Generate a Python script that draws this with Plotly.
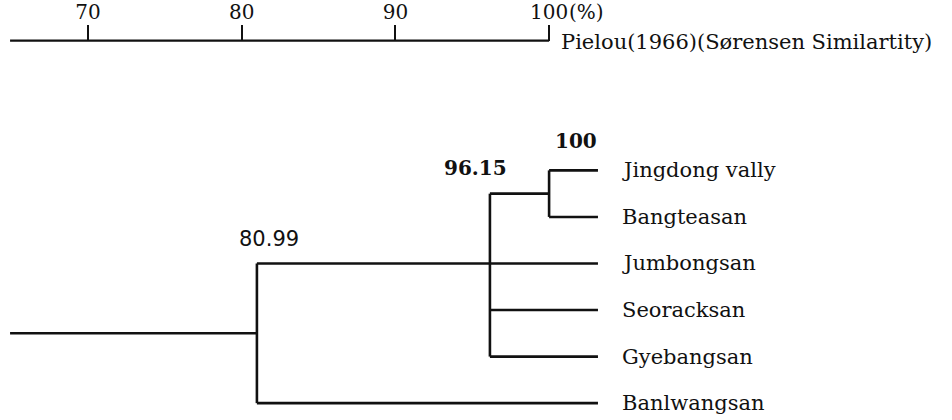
import plotly.graph_objects as go

# ---------------- data ----------------
leaves = ["Jingdong vally", "Bangteasan", "Jumbongsan", "Seoracksan", "Gyebangsan", "Banlwangsan"]
# merges: (node name, similarity %, children, child whose row carries the stem (None = midpoint))
merge_names = ["A", "B", "C"]
merge_sim = [100.0, 96.15, 80.99]
merge_children = [
    ["Jingdong vally", "Bangteasan"],
    ["A", "Jumbongsan", "Seoracksan", "Gyebangsan"],
    ["B", "Banlwangsan"],
]
merge_stem = [None, "Jumbongsan", None]
merge_labels = ["100", "96.15", "80.99"]

scale_ticks = [70, 80, 90, 100]
scale_ticktext = ["70", "80", "90", "100"]
scale_unit = "(%)"
scale_title = "Pielou(1966)(Sørensen Similartity)"

# ---------------- layout helpers ----------------
W, H = 952, 420
X_RANGE = [64.275, 126.214]
Y_RANGE = [5.362, -3.574]        # reversed: leaf 0 at top
ROOT_START = 64.93               # left end of root stem / scale line
LEAF_END = 103.18                # right end of leaf lines
Y_SCALE = -2.787                 # row of the scale line
INK = "#111111"
SERIF = "DejaVu Serif, Liberation Serif, serif"

ypos = {name: i for i, name in enumerate(leaves)}
xpos = {name: None for name in leaves}
parent_x = {}
segs = []
for name, sim, kids, stem in zip(merge_names, merge_sim, merge_children, merge_stem):
    ys = [ypos[k] for k in kids]
    for k in kids:
        parent_x[k] = sim
    segs.append(([sim, sim], [min(ys), max(ys)]))
    for k in kids:
        if k in merge_names:
            segs.append(([sim, xpos[k]], [ypos[k], ypos[k]]))
    ypos[name] = ypos[stem] if stem else (min(ys) + max(ys)) / 2
    xpos[name] = sim

for lf in leaves:
    segs.append(([parent_x[lf], LEAF_END], [ypos[lf], ypos[lf]]))
root = merge_names[-1]
segs.append(([ROOT_START, xpos[root]], [ypos[root], ypos[root]]))

xs, ys = [], []
for sx, sy in segs:
    xs += sx + [None]
    ys += sy + [None]

fig = go.Figure()
fig.add_trace(go.Scatter(x=xs, y=ys, mode="lines",
                         line=dict(color=INK, width=2.6), hoverinfo="skip", showlegend=False))
fig.add_trace(go.Scatter(x=[ROOT_START, scale_ticks[-1]], y=[Y_SCALE, Y_SCALE], mode="lines",
                         line=dict(color=INK, width=2.2), hoverinfo="skip", showlegend=False))

ann = []
for lf in leaves:
    ann.append(dict(x=LEAF_END, y=ypos[lf], text=lf, xanchor="left", yanchor="middle",
                    xshift=22, showarrow=False, font=dict(family=SERIF, size=21, color=INK)))

ann.append(dict(x=merge_sim[0], y=ypos[merge_children[0][0]], text=merge_labels[0],
                xanchor="left", yanchor="bottom", xshift=4, yshift=15, showarrow=False,
                font=dict(family=SERIF, size=20, color=INK, weight="bold")))
ann.append(dict(x=merge_sim[1], y=ypos["A"], text=merge_labels[1],
                xanchor="center", yanchor="bottom", xshift=-14, yshift=12, showarrow=False,
                font=dict(family=SERIF, size=20, color=INK, weight="bold")))
ann.append(dict(x=merge_sim[2], y=ypos["B"], text=merge_labels[2],
                xanchor="center", yanchor="bottom", xshift=12, yshift=10, showarrow=False,
                font=dict(family="DejaVu Sans, Liberation Sans, sans-serif", size=21, color=INK)))

pos_scale = (Y_RANGE[0] - Y_SCALE) / (Y_RANGE[0] - Y_RANGE[1])
TICKLEN = 16

ann.append(dict(x=scale_ticks[-1], y=pos_scale, yref="paper", text=scale_unit,
                xanchor="left", yanchor="middle", xshift=18, yshift=TICKLEN + 13,
                showarrow=False, font=dict(family=SERIF, size=20, color=INK)))
ann.append(dict(x=scale_ticks[-1], y=Y_SCALE, text=scale_title, xanchor="left", yanchor="middle",
                xshift=10, yshift=-1, showarrow=False, font=dict(family=SERIF, size=21, color=INK)))

fig.update_layout(
    width=W, height=H, margin=dict(l=0, r=0, t=0, b=0),
    paper_bgcolor="white", plot_bgcolor="white",
    annotations=ann,
    xaxis=dict(range=X_RANGE, side="top", anchor="free", position=pos_scale,
               tickvals=scale_ticks, ticktext=scale_ticktext,
               ticks="outside", ticklen=TICKLEN, tickwidth=2, tickcolor=INK,
               ticklabelstandoff=-2,
               tickfont=dict(family=SERIF, size=20, color=INK),
               showline=False, showgrid=False, zeroline=False, fixedrange=True),
    yaxis=dict(range=Y_RANGE, visible=False, showgrid=False, zeroline=False, fixedrange=True),
)

fig.write_html("out.html", config={"displayModeBar": False},
               post_script="document.body.style.margin='0';document.body.style.overflow='hidden';")
